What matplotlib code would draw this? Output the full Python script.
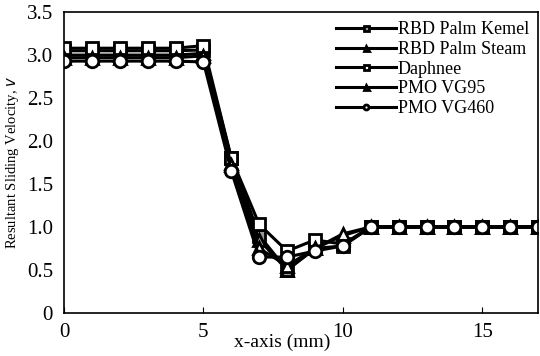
import numpy as np
from matplotlib import pyplot as plt

plt.rcParams['font.family'] = ['Liberation Serif', 'DejaVu Serif']

x = np.arange(0, 18)

kernel = [3.05, 3.05, 3.05, 3.05, 3.05, 3.06, 1.80, 0.90, 0.50, 0.75, 0.78,
          1.0, 1.0, 1.0, 1.0, 1.0, 1.0, 1.0]
steam = [3.00, 3.00, 3.00, 3.00, 3.00, 3.02, 1.75, 0.85, 0.50, 0.75, 0.90,
         1.0, 1.0, 1.0, 1.0, 1.0, 1.0, 1.0]
daphnee = [3.08, 3.08, 3.08, 3.08, 3.08, 3.11, 1.80, 1.03, 0.72, 0.85, 0.80,
           1.0, 1.0, 1.0, 1.0, 1.0, 1.0, 1.0]
vg95 = [2.97, 2.97, 2.97, 2.97, 2.97, 2.99, 1.72, 0.75, 0.55, 0.75, 0.92,
        1.0, 1.0, 1.0, 1.0, 1.0, 1.0, 1.0]
vg460 = [2.93, 2.93, 2.93, 2.93, 2.93, 2.92, 1.65, 0.65, 0.65, 0.72, 0.78,
         1.0, 1.0, 1.0, 1.0, 1.0, 1.0, 1.0]

labels = ['RBD Palm Kemel', 'RBD Palm Steam', 'Daphnee', 'PMO VG95', 'PMO VG460']
series = [kernel, steam, daphnee, vg95, vg460]
markers = ['s', '^', 's', '^', 'o']
faces = ['#999999', '#999999', 'white', 'white', 'white']

fig = plt.figure(figsize=(5.4, 3.56), dpi=100)
ax = fig.add_axes([0.1185, 0.121, 0.878, 0.845])

for ys, lab, m, fc in zip(series, labels, markers, faces):
    ax.plot(x, ys, color='black', lw=2.2, marker=m, ms=9, mfc=fc,
            mec='black', mew=2, label=lab)

ax.set_xlim(0, 17)
ax.set_ylim(0, 3.5)
ax.set_xticks([0, 5, 10, 15])
ax.set_yticks([0, 0.5, 1.0, 1.5, 2.0, 2.5, 3.0, 3.5])
ax.set_yticklabels(['0', '0.5', '1.0', '1.5', '2.0', '2.5', '3.0', '3.5'])
ax.tick_params(axis='x', direction='in', length=4, labelsize=15, pad=7)
ax.tick_params(axis='y', length=0, labelsize=15, pad=8)
for s in ax.spines.values():
    s.set_linewidth(1.2)

ax.set_xlabel('x-axis (mm)', fontsize=14)
ax.xaxis.set_label_coords(0.46, -0.07)
ax.set_ylabel(r'Resultant Sliding Velocity, $v$', fontsize=10.5)
ax.yaxis.set_label_coords(-0.09, 0.5)

ax.legend(loc='upper right', frameon=False, fontsize=13, markerscale=0.4,
          handlelength=3.3, handletextpad=0.1, labelspacing=0.15,
          borderaxespad=0.1)

plt.savefig('out.png')
